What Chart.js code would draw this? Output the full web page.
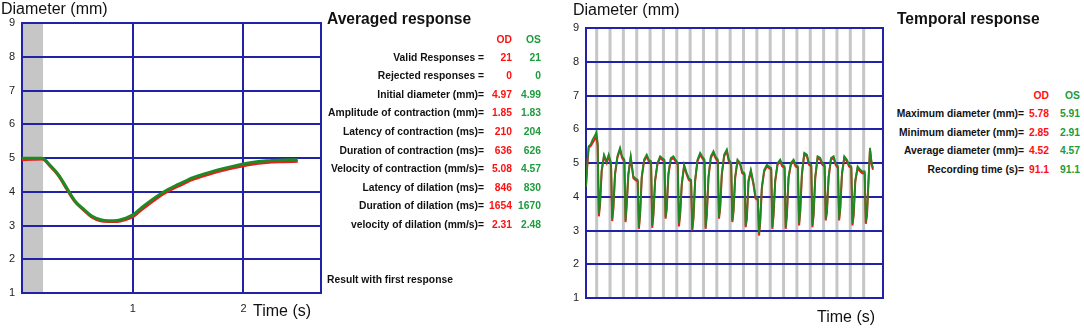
<!DOCTYPE html>
<html>
<head>
<meta charset="utf-8">
<script src="https://cdn.jsdelivr.net/npm/chart.js@4.4.1/dist/chart.umd.min.js"></script>
<style>
html, body { margin: 0; padding: 0; background: #fff; }
body { width: 1084px; height: 328px; position: relative; overflow: hidden; font-family: "Liberation Sans", Arial, sans-serif; color: #111; }
#avg-chart { position: absolute; left: 0; top: 0; }
#temp-chart { position: absolute; left: 565px; top: 0; }
.txt { position: absolute; white-space: nowrap; }
.axis-title { font-size: 16px; line-height: 16px; }
.panel-title { font-size: 15.6px; line-height: 16px; font-weight: bold; }
.row { font-size: 10.3px; line-height: 11px; font-weight: bold; }
</style>
</head>
<body>
<canvas id="avg-chart" width="330" height="328"></canvas>
<canvas id="temp-chart" width="325" height="328"></canvas>

<script>
// averaged response (s / mm)
const avgTime = [0, 0.1, 0.18, 0.26, 0.33, 0.41, 0.48, 0.56, 0.63, 0.71, 0.78, 0.86, 0.93, 1.01, 1.08, 1.16, 1.23, 1.31, 1.38, 1.46, 1.53, 1.61, 1.76, 1.91, 2.06, 2.21, 2.36, 2.49];
const avgOS = [4.99, 4.99, 4.99, 4.76, 4.5, 4.08, 3.72, 3.47, 3.28, 3.17, 3.14, 3.15, 3.21, 3.33, 3.53, 3.73, 3.89, 4.05, 4.17, 4.29, 4.40, 4.49, 4.64, 4.76, 4.86, 4.92, 4.94, 4.95];
const avgOD = [4.95, 4.96, 4.97, 4.74, 4.48, 4.05, 3.70, 3.45, 3.25, 3.14, 3.12, 3.12, 3.17, 3.28, 3.47, 3.67, 3.84, 4.00, 4.12, 4.24, 4.35, 4.44, 4.59, 4.71, 4.81, 4.87, 4.89, 4.90];
const avgStimulus = [0, 0.19];

// temporal response (s / mm)
const tempTime = [
  0, 0.4, 0.8, 1.4, 2.0, 2.6, 3.1,
  3.5, 3.85, 4.2, 4.7, 5.4, 6.2, 6.8,
  7.5, 7.85, 8.2, 8.7, 9.4, 10.2, 10.8,
  11.5, 11.85, 12.2, 12.7, 13.4, 14.2, 14.8,
  15.5, 15.85, 16.2, 16.7, 17.4, 18.2, 18.8,
  19.5, 19.85, 20.2, 20.7, 21.4, 22.2, 22.8,
  23.5, 23.85, 24.2, 24.7, 25.4, 26.2, 26.8,
  27.5, 27.85, 28.2, 28.7, 29.4, 30.2, 30.8,
  31.5, 31.85, 32.2, 32.7, 33.4, 34.2, 34.8,
  35.5, 35.85, 36.2, 36.7, 37.4, 38.2, 38.8,
  39.5, 39.85, 40.2, 40.7, 41.4, 42.2, 42.8,
  43.5, 43.85, 44.2, 44.7, 45.4, 46.2, 46.8,
  47.5, 47.85, 48.2, 48.7, 49.4, 50.2, 50.8,
  51.5, 51.85, 52.2, 52.7, 53.4, 54.2, 54.8,
  55.5, 55.85, 56.2, 56.7, 57.4, 58.2, 58.8,
  59.5, 59.85, 60.2, 60.7, 61.4, 62.2, 62.8,
  63.5, 63.85, 64.2, 64.7, 65.4, 66.2, 66.8,
  67.5, 67.85, 68.2, 68.7, 69.4, 70.2, 70.8,
  71.5, 71.85, 72.2, 72.7, 73.4, 74.2, 74.8,
  75.5, 75.85, 76.2, 76.7, 77.4, 78.2, 78.8,
  79.5, 79.85, 80.2, 80.7, 81.4, 82.2, 82.8,
  83.5, 83.85, 84.2, 84.7, 85.1, 85.6, 86.0
];
const tempOS = [
  4.3, 5.0, 5.5, 5.55, 5.7, 5.8, 5.91,
  5.6, 3.5, 3.8, 4.8, 5.25, 5.05, 5.25,
  5.0, 3.35, 3.7, 4.7, 5.2, 5.45, 5.2,
  5.1, 3.3, 3.8, 4.7, 5.2, 4.6, 4.55,
  4.5, 3.1, 3.5, 4.6, 5.1, 5.25, 5.1,
  5.05, 3.15, 3.5, 4.5, 5.0, 5.2, 5.15,
  5.1, 3.4, 3.7, 4.7, 5.15, 5.2, 5.1,
  5.0, 3.2, 3.5, 4.4, 4.95, 4.7, 4.55,
  4.5, 3.05, 3.4, 4.5, 5.1, 5.3, 5.2,
  5.1, 3.1, 3.5, 4.6, 5.2, 5.35, 5.2,
  5.1, 3.4, 3.7, 4.7, 5.25, 5.4, 5.1,
  5.0, 3.3, 3.6, 4.6, 5.1, 5.0, 4.75,
  4.7, 3.15, 3.4, 4.5, 4.8, 4.4, 4.0,
  3.95, 2.91, 3.3, 4.3, 4.8, 4.95, 4.9,
  4.85, 3.1, 3.5, 4.5, 5.0, 5.1, 4.95,
  4.9, 3.1, 3.5, 4.6, 5.0, 5.1, 4.95,
  4.9, 3.2, 3.6, 4.7, 5.3, 5.25, 5.0,
  4.95, 3.15, 3.5, 4.6, 5.2, 5.15, 5.0,
  4.95, 3.35, 3.6, 4.6, 5.15, 5.2, 5.0,
  4.9, 3.35, 3.7, 4.7, 5.2, 5.1, 4.95,
  4.9, 3.2, 3.5, 4.5, 4.9, 4.8, 4.75,
  4.75, 3.25, 3.5, 4.6, 5.45, 5.0, 4.85
];
const tempOD = [
  4.3, 4.95, 5.45, 5.5, 5.6, 5.7, 5.78,
  5.5, 3.42, 3.75, 4.75, 5.2, 5.0, 5.2,
  4.95, 3.28, 3.65, 4.65, 5.15, 5.4, 5.15,
  5.05, 3.25, 3.75, 4.65, 5.15, 4.55, 4.5,
  4.45, 3.05, 3.45, 4.55, 5.05, 5.2, 5.05,
  5.0, 3.08, 3.45, 4.45, 4.95, 5.15, 5.1,
  5.05, 3.35, 3.65, 4.65, 5.1, 5.15, 5.05,
  4.95, 3.12, 3.45, 4.35, 4.9, 4.65, 4.5,
  4.45, 3.0, 3.35, 4.45, 5.05, 5.25, 5.15,
  5.05, 3.05, 3.45, 4.55, 5.15, 5.3, 5.15,
  5.05, 3.35, 3.65, 4.65, 5.2, 5.35, 5.05,
  4.95, 3.25, 3.55, 4.55, 5.05, 4.95, 4.7,
  4.65, 3.1, 3.35, 4.45, 4.75, 4.35, 3.95,
  3.9, 2.85, 3.25, 4.25, 4.75, 4.9, 4.85,
  4.8, 3.05, 3.45, 4.45, 4.95, 5.05, 4.9,
  4.85, 3.05, 3.45, 4.55, 4.95, 5.05, 4.9,
  4.85, 3.15, 3.55, 4.65, 5.25, 5.2, 4.95,
  4.9, 3.1, 3.45, 4.55, 5.15, 5.1, 4.95,
  4.9, 3.3, 3.55, 4.55, 5.1, 5.15, 4.95,
  4.85, 3.3, 3.65, 4.65, 5.15, 5.05, 4.9,
  4.85, 3.15, 3.45, 4.45, 4.85, 4.75, 4.7,
  4.7, 3.2, 3.45, 4.55, 5.4, 4.95, 4.8
];
const tempStimuli = [3.2, 7.2, 11.2, 15.2, 19.2, 23.2, 27.2, 31.2, 35.2, 39.2, 43.2, 47.2, 51.2, 55.2, 59.2, 63.2, 67.2, 71.2, 75.2, 79.2, 83.2];

// side tables
const avgLabels = ['Valid Responses =', 'Rejected responses =', 'Initial diameter (mm)=', 'Amplitude of contraction (mm)=', 'Latency of contraction (ms)=', 'Duration of contraction (ms)=', 'Velocity of contraction (mm/s)=', 'Latency of dilation (ms)=', 'Duration of dilation (ms)=', 'velocity of dilation (mm/s)='];
const avgValuesOD = ['21', '0', '4.97', '1.85', '210', '636', '5.08', '846', '1654', '2.31'];
const avgValuesOS = ['21', '0', '4.99', '1.83', '204', '626', '4.57', '830', '1670', '2.48'];
const tempLabels = ['Maximum diameter (mm)=', 'Minimum diameter (mm)=', 'Average diameter (mm)=', 'Recording time (s)='];
const tempValuesOD = ['5.78', '2.85', '4.52', '91.1'];
const tempValuesOS = ['5.91', '2.91', '4.57', '91.1'];

const BLUE = '#2222a6';
const GREY = '#c6c6c6';
const RED = '#ee1c1c';
const GREEN = '#1f8a24';
const TXT_RED = '#ff1010';
const TXT_GREEN = '#1c9c3c';

function addText(text, cls, css) {
    const el = document.createElement('div');
    el.className = 'txt ' + cls;
    el.textContent = text;
    Object.assign(el.style, css);
    document.body.appendChild(el);
    return el;
}

function buildTable(labels, od, os, opts) {
    addText('OD', 'row', { top: opts.headTop + 'px', right: (1084 - opts.odRight) + 'px', color: TXT_RED });
    addText('OS', 'row', { top: opts.headTop + 'px', right: (1084 - opts.osRight) + 'px', color: TXT_GREEN });
    labels.forEach((lbl, i) => {
        const top = (opts.rowTop + i * opts.rowStep) + 'px';
        addText(lbl, 'row', { top: top, right: (1084 - opts.labelRight) + 'px' });
        addText(od[i], 'row', { top: top, right: (1084 - opts.odRight) + 'px', color: TXT_RED });
        addText(os[i], 'row', { top: top, right: (1084 - opts.osRight) + 'px', color: TXT_GREEN });
    });
}

addText('Diameter (mm)', 'axis-title', { left: '1px', top: '1px' });
addText('Time (s)', 'axis-title', { left: '253px', top: '303px' });
addText('Diameter (mm)', 'axis-title', { left: '573px', top: '2px' });
addText('Time (s)', 'axis-title', { left: '817px', top: '309px' });

addText('Averaged response', 'panel-title', { left: '327px', top: '11px' });
buildTable(avgLabels, avgValuesOD, avgValuesOS, { headTop: 33.6, rowTop: 51.6, rowStep: 18.6, labelRight: 484, odRight: 512, osRight: 541 });
addText('Result with first response', 'row', { left: '327px', top: '273.6px' });

addText('Temporal response', 'panel-title', { left: '897px', top: '11px' });
buildTable(tempLabels, tempValuesOD, tempValuesOS, { headTop: 90.3, rowTop: 108, rowStep: 18.7, labelRight: 1024, odRight: 1049, osRight: 1080 });

// grey stimulus markers, drawn under the grid
const stimulusPlugin = {
    id: 'stimulus',
    beforeDraw(chart, args, opts) {
        const { ctx, chartArea, scales } = chart;
        ctx.save();
        ctx.fillStyle = GREY;
        if (opts.band) {
            const x0 = scales.x.getPixelForValue(opts.band[0]);
            const x1 = scales.x.getPixelForValue(opts.band[1]);
            ctx.fillRect(x0, chartArea.top, x1 - x0, chartArea.bottom - chartArea.top);
        }
        (opts.marks || []).forEach(t => {
            const x = scales.x.getPixelForValue(t);
            ctx.fillRect(x - 1.5, chartArea.top, 3, chartArea.bottom - chartArea.top);
        });
        ctx.restore();
    }
};

const framePlugin = {
    id: 'frame',
    beforeDatasetsDraw(chart) {
        const { ctx, chartArea } = chart;
        ctx.save();
        ctx.strokeStyle = BLUE;
        ctx.lineWidth = 2;
        ctx.strokeRect(chartArea.left, chartArea.top, chartArea.right - chartArea.left, chartArea.bottom - chartArea.top);
        ctx.restore();
    }
};

const tickFont = { family: '"Liberation Sans", Arial, sans-serif', size: 11 };

function yScale(width) {
    return {
        min: 1,
        max: 9,
        ticks: { stepSize: 1, color: '#222', font: tickFont, padding: 7 },
        grid: { color: BLUE, lineWidth: 2, drawTicks: false },
        border: { display: false },
        afterFit: s => { s.width = width; }
    };
}

function toPoints(xs, ys) {
    return xs.map((x, i) => ({ x: x, y: ys[i] }));
}

// dataset 0 is painted last, so OS (green) sits on top of OD (red)
new Chart(document.getElementById('avg-chart'), {
    type: 'line',
    data: {
        datasets: [
            { label: 'OS', data: toPoints(avgTime, avgOS), borderColor: GREEN, borderWidth: 3, pointRadius: 0, cubicInterpolationMode: 'monotone' },
            { label: 'OD', data: toPoints(avgTime, avgOD), borderColor: RED, borderWidth: 3, pointRadius: 0, cubicInterpolationMode: 'monotone' }
        ]
    },
    options: {
        responsive: false,
        animation: false,
        events: [],
        layout: { padding: { top: 23, right: 9, left: 0, bottom: 0 } },
        plugins: {
            legend: { display: false },
            tooltip: { enabled: false },
            stimulus: { band: avgStimulus }
        },
        scales: {
            x: {
                type: 'linear',
                min: 0,
                max: 2.7,
                ticks: { stepSize: 1, includeBounds: false, maxRotation: 0, color: '#222', font: tickFont, padding: 9, callback: v => (v === 0 ? '' : v) },
                grid: { color: BLUE, lineWidth: 2, drawTicks: false },
                border: { display: false },
                afterFit: s => { s.height = 35; }
            },
            y: yScale(22)
        }
    },
    plugins: [stimulusPlugin, framePlugin]
});

new Chart(document.getElementById('temp-chart'), {
    type: 'line',
    data: {
        datasets: [
            { label: 'OS', data: toPoints(tempTime, tempOS), borderColor: GREEN, borderWidth: 1.8, pointRadius: 0, tension: 0 },
            { label: 'OD', data: toPoints(tempTime, tempOD), borderColor: RED, borderWidth: 2, pointRadius: 0, tension: 0 }
        ]
    },
    options: {
        responsive: false,
        animation: false,
        events: [],
        layout: { padding: { top: 28, right: 7, left: 0, bottom: 0 } },
        plugins: {
            legend: { display: false },
            tooltip: { enabled: false },
            stimulus: { marks: tempStimuli }
        },
        scales: {
            x: {
                type: 'linear',
                min: 0,
                max: 89,
                ticks: { display: false },
                grid: { display: false },
                border: { display: false },
                afterFit: s => { s.height = 30; }
            },
            y: yScale(21)
        }
    },
    plugins: [stimulusPlugin, framePlugin]
});
</script>
</body>
</html>
